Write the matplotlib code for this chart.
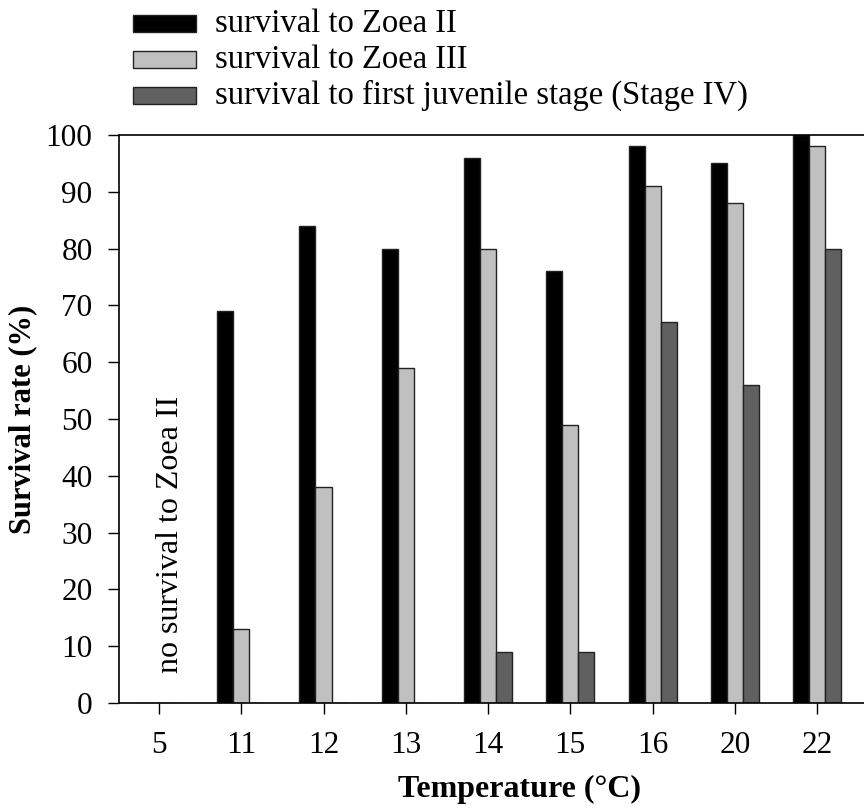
import numpy as np
import matplotlib.pyplot as plt
from matplotlib.patches import Rectangle

plt.rcParams['font.family'] = ['Liberation Serif', 'DejaVu Serif']

# --- data ---
temps = ['5', '11', '12', '13', '14', '15', '16', '20', '22']
zoea2 = [0, 69, 84, 80, 96, 76, 98, 95, 100]
zoea3 = [0, 13, 38, 59, 80, 49, 91, 88, 98]
stage4 = [0, 0, 0, 0, 9, 9, 67, 56, 80]
labels = ['survival to Zoea II', 'survival to Zoea III',
          'survival to first juvenile stage (Stage IV)']
colors = ['#000000', '#c0c0c0', '#606060']

W, H = 864, 808
fig = plt.figure(figsize=(W/100, H/100), dpi=100)
ax = fig.add_axes([119/W, 1-703/H, 1-119/W, (703-135)/H])

x = np.arange(len(temps))
w = 0.195
series = [zoea2, zoea3, stage4]
for i, (vals, c) in enumerate(zip(series, colors)):
    ax.bar(x + (i-1)*w, vals, width=w, color=c, edgecolor='#222222',
           linewidth=1.0, zorder=2)

ax.set_xlim(-0.486, 8.57)
ax.set_ylim(0, 100)
ax.set_xticks(x)
ax.set_xticklabels(temps)
ax.set_yticks(np.arange(0, 101, 10))
ax.tick_params(axis='both', labelsize=22.5, length=8, width=1, direction='out')
ax.tick_params(axis='y', pad=11)
ax.tick_params(axis='x', pad=12)
ax.spines['right'].set_visible(False)
for s in ['left', 'top', 'bottom']:
    ax.spines[s].set_linewidth(1.2)

ax.set_ylabel('Survival rate (%)', fontsize=22, fontweight='bold')
ax.yaxis.set_label_coords(-0.110, 0.5)
ax.set_xlabel('Temperature (°C)', fontsize=23, fontweight='bold')
ax.xaxis.set_label_coords(0.538, -0.126)

ax.text(0.14, 29.6, 'no survival to Zoea II', rotation=90, fontsize=23,
        ha='center', va='center')

# legend on top (drawn by hand, figure pixel layout)
box_l, box_r, text_x = 133, 196, 215
rows = [23.5, 59.5, 95.5]
box_h = 17
for yc, c, lab in zip(rows, colors, labels):
    fig.patches.append(Rectangle((box_l/W, 1-(yc+box_h/2)/H), (box_r-box_l)/W, box_h/H,
                                 transform=fig.transFigure, facecolor=c,
                                 edgecolor='#222222', linewidth=1.0))
    fig.text(text_x/W, 1-yc/H, lab, fontsize=23.5, ha='left', va='center')

fig.savefig('out.png', dpi=100)
